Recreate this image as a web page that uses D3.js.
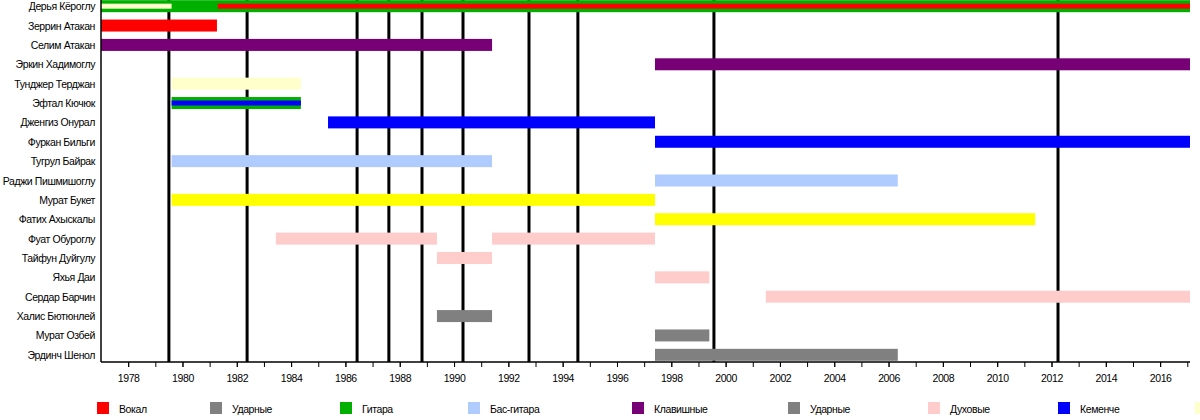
<!DOCTYPE html><html><head><meta charset="utf-8"><script src="https://cdn.jsdelivr.net/npm/d3@7"></script>
<style>body{margin:0;background:#fff}text{font-family:"Liberation Sans",Arial,sans-serif;font-size:10.5px;letter-spacing:-0.4px}</style></head><body><svg id="c" width="1200" height="420"></svg><script>
const members=["Дерья Кёроглу","Зеррин Атакан","Селим Атакан","Эркин Хадимоглу","Тунджер Терджан","Эфтал Кючюк","Дженгиз Онурал","Фуркан Бильги","Тугрул Байрак","Раджи Пишмишоглу","Мурат Букет","Фатих Ахыскалы","Фуат Обуроглу","Тайфун Дуйгулу","Яхья Даи","Сердар Барчин","Халис Бютюнлей","Мурат Озбей","Эрдинч Шенол"];
const END=2017.1;
const roleNames=["Вокал","Ударные","Гитара","Бас-гитара","Клавишные","Ударные","Духовые","Кеменче",""];
const roleColors=["#ff0000","#808080","#00b000","#b0ccff","#770077","#808080","#ffcccc","#0000ff","#ffffcc"];
const periods=[
[0,1977,END,2,0],[0,1977,1979.6,8,1],[0,1981.3,END,0,1],
[1,1977,1981.27,0,0],[2,1977,1991.4,4,0],[3,1997.4,END,4,0],
[4,1979.6,1984.36,8,0],[5,1979.6,1984.36,2,0],[5,1979.6,1984.36,7,1],
[6,1985.36,1997.4,7,0],[7,1997.4,END,7,0],[8,1979.6,1991.4,3,0],[9,1997.4,2006.34,3,0],
[10,1979.6,1997.4,8,0],[11,1997.4,2011.4,8,0],
[12,1983.44,1989.37,6,0],[12,1991.4,1997.4,6,0],[13,1989.37,1991.4,6,0],[14,1997.4,1999.4,6,0],[15,2001.48,END,6,0],
[16,1989.37,1991.4,1,0],[17,1997.4,1999.4,1,0],[18,1997.4,2006.34,1,0]];
const yellowFix={10:"#ffff00",11:"#ffff00"};
const events=[1979.5,1982.38,1986.43,1987.6,1988.82,1990.33,1992.76,1994.56,1999.57,2012.24];
const legendX=[97,210,340,468,632,788,928,1058,1195];
const svg=d3.select("#c");
const x=d3.scaleLinear().domain([1977,END]).range([101,1190]);
const y=d3.scaleBand().domain(d3.range(members.length)).range([-3.5,364.5]).padding(0);
const axisY=362;
svg.selectAll("line.ev").data(events).enter().append("line").attr("x1",d=>x(d)).attr("x2",d=>x(d)).attr("y1",0).attr("y2",axisY).attr("stroke","#000").attr("stroke-width",3);
svg.selectAll("rect.b").data(periods).enter().append("rect")
 .attr("x",d=>x(d[1])).attr("width",d=>x(d[2])-x(d[1]))
 .attr("y",d=>y(d[0])+y.bandwidth()/2-(d[4]?2.5:6)).attr("height",d=>d[4]?5:12)
 .attr("fill",d=>yellowFix[d[0]]||roleColors[d[3]]);
svg.selectAll("text.m").data(members).enter().append("text").attr("x",95).attr("y",(d,i)=>y(i)+y.bandwidth()/2+4).attr("text-anchor","end").text(d=>d);
svg.append("line").attr("x1",101).attr("x2",101).attr("y1",0).attr("y2",axisY).attr("stroke","#000").attr("stroke-width",1.5);
svg.append("line").attr("x1",101).attr("x2",1190).attr("y1",axisY).attr("y2",axisY).attr("stroke","#000").attr("stroke-width",1.5);
const g=svg.append("g").attr("transform",`translate(0,${axisY})`);
g.call(d3.axisBottom(x).tickValues(d3.range(1978,2018,1)).tickSize(5).tickFormat("")).select(".domain").remove();
const g2=svg.append("g").attr("transform",`translate(0,${axisY})`);
g2.call(d3.axisBottom(x).tickValues(d3.range(1978,2017,2)).tickSize(5).tickFormat(d3.format("d")).tickPadding(8)).select(".domain").remove();
g2.selectAll("text").style("font-size","10.5px").style("font-family","Liberation Sans, Arial, sans-serif");
const lg=svg.selectAll("g.l").data(roleNames).enter().append("g").attr("transform",(d,i)=>`translate(${legendX[i]},402)`);
lg.append("rect").attr("width",12).attr("height",12).attr("fill",(d,i)=>roleColors[i]);
lg.append("text").attr("x",22).attr("y",11).text(d=>d);
</script></body></html>
